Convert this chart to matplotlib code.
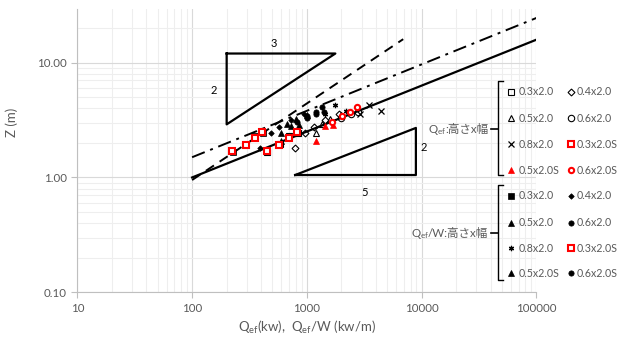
import matplotlib
matplotlib.use("Agg")
import matplotlib.pyplot as plt
from matplotlib.lines import Line2D
from matplotlib.ticker import FixedLocator, LogLocator, NullFormatter

plt.rcParams['font.family'] = ['Lato', 'Noto Sans CJK JP', 'DejaVu Sans']
plt.rcParams['mathtext.default'] = 'regular'

# --- data (Q in kW, Z in m) ---
# Q_ef series
q_03 = [450, 580, 700, 830]
z_03 = [1.68, 1.95, 2.30, 2.45]
q_04 = [780, 970, 1150, 1450, 1900]
z_04 = [1.81, 2.46, 2.75, 3.15, 3.60]
q_05 = [1190, 1350, 1600, 2000]
z_05 = [2.46, 2.90, 3.20, 3.50]
q_06 = [2000, 2400, 2800]
z_06 = [3.30, 3.60, 3.70]
q_08 = [2900, 3500, 4400]
z_08 = [3.60, 4.30, 3.80]
q_03s = [447, 573, 704, 822]
z_03s = [1.69, 1.90, 2.21, 2.51]
q_05s = [1190, 1450, 1700]
z_05s = [2.07, 2.80, 2.85]
q_06s = [1650, 2020, 2390, 2730]
z_06s = [3.04, 3.41, 3.72, 4.10]

# Q_ef/W series (kW/m)
qw_03 = [225, 290, 350, 415]
qw_04 = [390, 485, 575, 725, 950]
qw_05 = [595, 675, 800, 1000]
qw_06 = [1000, 1200, 1400]
qw_08 = [1450, 1750, 2200]
qw_03s = [224, 292, 352, 408]
qw_05s = [595, 725, 850]
qw_06s = [825, 1010, 1195, 1365]

# reference lines
solid_q = [100, 100000]
solid_z = [1.0, 15.85]
dashdot_q = [100, 100000]
dashdot_z = [1.5, 24.5]
dashed_q = [100, 6900]
dashed_z = [0.95, 16.0]

# slope triangles
tri_up_q = [200, 1770, 200, 200]
tri_up_z = [12.0, 12.0, 2.9, 12.0]
tri_lo_q = [790, 8900, 8900, 790]
tri_lo_z = [1.05, 1.05, 2.7, 1.05]

W, H = 618, 338
fig = plt.figure(figsize=(W / 100, H / 100), dpi=100)
ax = fig.add_axes([77.3 / W, 1 - 292.3 / H, (536.5 - 77.3) / W, (292.3 - 9) / H])
ax.set_xscale('log')
ax.set_yscale('log')
ax.set_xlim(10, 100000)
ax.set_ylim(0.1, 29.3)

grey = '#595959'
ax.grid(which='major', color='#d9d9d9', lw=0.8)
ax.grid(which='minor', color='#eeeeee', lw=0.8)
ax.set_axisbelow(True)
for s in ['top', 'right']:
    ax.spines[s].set_visible(False)
for s in ['left', 'bottom']:
    ax.spines[s].set_color('#bfbfbf')
ax.yaxis.set_major_locator(FixedLocator([0.1, 1, 10]))
ax.set_yticklabels(['0.10', '1.00', '10.00'])
ax.xaxis.set_major_locator(FixedLocator([10, 100, 1000, 10000, 100000]))
ax.set_xticklabels(['10', '100', '1000', '10000', '100000'])
ax.xaxis.set_minor_locator(LogLocator(base=10, subs=range(2, 10)))
ax.yaxis.set_minor_locator(LogLocator(base=10, subs=range(2, 10)))
ax.xaxis.set_minor_formatter(NullFormatter())
ax.yaxis.set_minor_formatter(NullFormatter())
ax.tick_params(which='major', colors='#bfbfbf', labelcolor=grey, labelsize=8.3, length=4)
ax.tick_params(which='minor', length=0)

ax.set_xlabel(r'Q$\mathregular{_{ef}}$(kw),  Q$\mathregular{_{ef}}$/W (kw/m)', color=grey, fontsize=9.5)
ax.xaxis.set_label_coords(0.5, -0.095)
ax.set_ylabel('Z (m)', color=grey, fontsize=9.5)
ax.yaxis.set_label_coords(-0.13, 0.6)

# lines
ax.plot(solid_q, solid_z, color='black', lw=1.6)
ax.plot(dashdot_q, dashdot_z, color='black', lw=1.4, dashes=[7, 3, 1.5, 3])
ax.plot(dashed_q, dashed_z, color='black', lw=1.4, dashes=[5, 3.5])
ax.plot(tri_up_q, tri_up_z, color='black', lw=1.6)
ax.plot(tri_lo_q, tri_lo_z, color='black', lw=1.6)
ax.text(512, 14.7, '3', fontsize=8, ha='center', va='center')
ax.text(154, 5.74, '2', fontsize=8, ha='center', va='center')
ax.text(3160, 0.745, '5', fontsize=8, ha='center', va='center')
ax.text(10500, 1.83, '2', fontsize=8, ha='center', va='center')

star = (6, 2, 0)
ms = 3.8
red = '#ff0000'
st_open_sq = dict(marker='s', mfc='none', mec='black', ms=ms + 1, mew=0.8)
st_open_di = dict(marker='D', mfc='none', mec='black', ms=ms - 0.3, mew=0.8)
st_open_tr = dict(marker='^', mfc='none', mec='black', ms=ms + 1, mew=0.8)
st_open_ci = dict(marker='o', mfc='none', mec='black', ms=ms + 0.8, mew=0.8)
st_x = dict(marker='x', mfc='none', mec='black', ms=ms + 1, mew=0.9)
st_red_sq = dict(marker='s', mfc='white', mec=red, ms=ms, mew=1.5)
st_red_tr = dict(marker='^', mfc=red, mec=red, ms=ms, mew=0.5)
st_red_ci = dict(marker='o', mfc='white', mec=red, ms=ms, mew=1.5)
st_f_sq = dict(marker='s', mfc='black', mec='black', ms=ms, mew=0.5)
st_f_di = dict(marker='D', mfc='black', mec='black', ms=ms - 1.0, mew=0.5)
st_f_tr = dict(marker='^', mfc='black', mec='black', ms=ms, mew=0.5)
st_f_ci = dict(marker='o', mfc='black', mec='black', ms=ms, mew=0.5)
st_star = dict(marker=star, mfc='black', mec='black', ms=ms, mew=0.9)

series = [
    (qw_03, z_03, st_f_sq), (qw_04, z_04, st_f_di), (qw_05, z_05, st_f_tr),
    (qw_06, z_06, st_f_ci), (qw_08, z_08, st_star), (qw_05s, z_05s, st_f_tr),
    (qw_06s, z_06s, st_f_ci), (qw_03s, z_03s, st_red_sq),
    (q_03, z_03, st_open_sq), (q_04, z_04, st_open_di), (q_05, z_05, st_open_tr),
    (q_06, z_06, st_open_ci), (q_08, z_08, st_x), (q_03s, z_03s, st_red_sq),
    (q_05s, z_05s, st_red_tr), (q_06s, z_06s, st_red_ci),
]
for q, z, st in series:
    ax.plot(q, z, ls='none', **st)

# --- custom legend in pixel positions ---
def fx(x):
    return x / W

def fy(y):
    return 1 - y / H

renderer = fig.canvas.get_renderer()
labels = ['0.3x2.0', '0.4x2.0', '0.5x2.0', '0.6x2.0', '0.8x2.0', '0.3x2.0S', '0.5x2.0S', '0.6x2.0S']
groups = [
    (':高さx幅', [81, 175], 128.5,
     [91.7, 118.3, 144.3, 170],
     [st_open_sq, st_open_di, st_open_tr, st_open_ci, st_x, st_red_sq, st_red_tr, st_red_ci]),
    ('/W:高さx幅', [185, 280], 232.5,
     [195.7, 222.7, 248.3, 273.3],
     [st_f_sq, st_f_di, st_f_tr, st_f_ci, st_star, st_red_sq, st_f_tr, st_f_ci]),
]
bx = 497.7
for title, (y0, y1), ym, rows, styles in groups:
    fig.add_artist(Line2D([fx(503), fx(bx), fx(bx), fx(503)],
                          [fy(y0), fy(y0), fy(y1), fy(y1)], color='black', lw=1.0))
    fig.add_artist(Line2D([fx(491), fx(bx)], [fy(ym), fy(ym)], color='black', lw=1.2))
    t = fig.text(fx(488), fy(ym + 1.5), title, color=grey, fontsize=8.3, ha='right', va='center')
    wpx = t.get_window_extent(renderer=renderer).width
    fig.text(fx(488 - wpx + 1.5), fy(ym + 1.5), r'Q$\mathregular{_{ef}}$', color=grey, fontsize=8.3,
             ha='right', va='center')
    for i, (lab, st) in enumerate(zip(labels, styles)):
        row = rows[i // 2]
        mx, tx = (510.7, 518.5) if i % 2 == 0 else (570.7, 576.5)
        fig.add_artist(Line2D([fx(mx)], [fy(row)], ls='none', **st))
        fig.text(fx(tx), fy(row), lab, color=grey, fontsize=7.7, ha='left', va='center')

fig.savefig('out.png', dpi=100)
